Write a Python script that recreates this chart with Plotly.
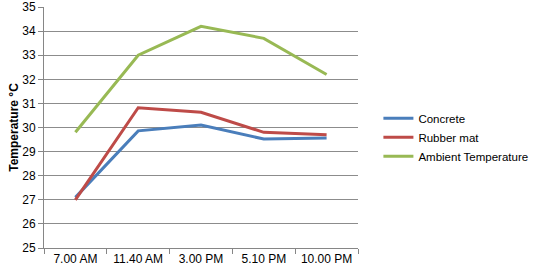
import plotly.graph_objects as go

categories = ["7.00 AM", "11.40 AM", "3.00 PM", "5.10 PM", "10.00 PM"]
concrete = [27.1, 29.86, 30.1, 29.52, 29.56]
rubber_mat = [27.0, 30.82, 30.63, 29.8, 29.7]
ambient = [29.8, 33.0, 34.2, 33.7, 32.2]
y_ticks = list(range(25, 36))

fig = go.Figure()
series = [("Concrete", concrete, "#4A7EBB"),
          ("Rubber mat", rubber_mat, "#BE4B48"),
          ("Ambient Temperature", ambient, "#98B954")]
for name, vals, col in series:
    fig.add_trace(go.Scatter(x=categories, y=vals, name=name, mode="lines",
                             line=dict(color=col, width=3)))

fig.update_layout(
    width=540, height=273,
    margin=dict(l=44, r=175, t=7, b=25),
    paper_bgcolor="white", plot_bgcolor="white",
    font=dict(family="Liberation Sans, Arial, sans-serif", size=12, color="#000000"),
    legend=dict(x=1.065, y=0.46, yanchor="middle", xanchor="left",
                font=dict(size=11.5), itemwidth=30),
    showlegend=True,
)
fig.update_xaxes(type="category", range=[-0.5, 4.5], showgrid=False, showline=True,
                 linecolor="#868686", ticks="outside", tickson="boundaries", ticklen=5,
                 tickcolor="#868686", tickfont=dict(size=12), automargin=False)
fig.update_yaxes(range=[25, 35], tickvals=y_ticks, showgrid=True, gridcolor="#8C8C8C",
                 gridwidth=1, showline=True, linecolor="#868686", ticks="outside",
                 ticklen=5, tickcolor="#868686", zeroline=False, automargin=False,
                 title=dict(text="<b>Temperature °C</b>", font=dict(size=12), standoff=1),
                 tickfont=dict(size=12))

fig.write_html("out.html", config={"displayModeBar": False},
               post_script="document.body.style.margin='0';document.body.style.overflow='hidden';")
